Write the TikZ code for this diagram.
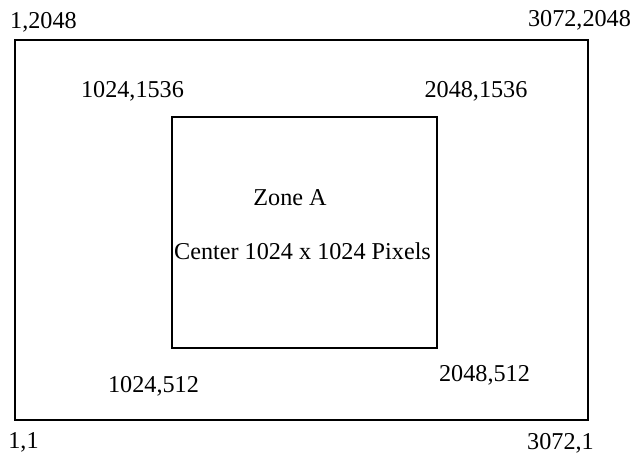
\documentclass[tikz,border=0pt]{standalone}
\usepackage{fontspec}
\setmainfont{Liberation Serif}
\begin{document}
\begin{tikzpicture}[x=1pt,y=-1pt,
  lbl/.style={anchor=base,inner sep=0pt,font=\fontsize{24.2}{28}\selectfont},
  box/.style={draw=black,line width=1.8pt}]
\useasboundingbox (0,0) rectangle (631,455);
% outer frame
\coordinate (otl) at (15,40);
\coordinate (obr) at (588,420);
\draw[box] (otl) rectangle (obr);
% inner zone
\coordinate (itl) at (172,117);
\coordinate (ibr) at (437,348);
\draw[box] (itl) rectangle (ibr);
% labels
\node[lbl] (c1) at (43.5,28) {1,2048};
\node[lbl] (c2) at (579.5,27) {3072,2048};
\node[lbl] (c3) at (132.5,97) {1024,1536};
\node[lbl] (c4) at (476,97) {2048,1536};
\node[lbl] (za) at (290,205) {Zone A};
\node[lbl] (ct) at (302.5,259) {Center 1024 x 1024 Pixels};
\node[lbl] (c5) at (153.5,392) {1024,512};
\node[lbl] (c6) at (484.5,381) {2048,512};
\node[lbl] (c7) at (23.5,448) {1,1};
\node[lbl] (c8) at (560.5,449) {3072,1};
\end{tikzpicture}
\end{document}
